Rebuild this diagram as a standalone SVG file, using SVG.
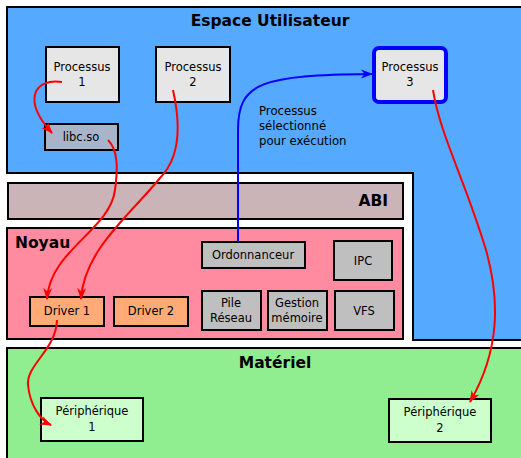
<svg xmlns="http://www.w3.org/2000/svg" width="521" height="458" viewBox="0 0 521 458">
  <style>
    .region { stroke: #000; stroke-width: 2; }
    .box { stroke: #000; stroke-width: 2; }
    .proc { fill: #e6e6e6; }
    .grey { fill: #bfbfbf; }
    .drv { fill: #ffaa77; }
    .dev { fill: #ccffcc; }
    .lbl { font-family: "DejaVu Sans", sans-serif; font-size: 11.5px; fill: #000; text-anchor: middle; }
    .title { font-family: "DejaVu Sans", sans-serif; font-size: 15.5px; font-weight: bold; fill: #000; }
    .note { font-family: "DejaVu Sans", sans-serif; font-size: 11.7px; fill: #000; }
    .red { fill: none; stroke: #ff0000; stroke-width: 2; }
    .blue { fill: none; stroke: #0000ff; stroke-width: 2; }
  </style>
  <defs>
    <marker id="arrowRed" viewBox="0 0 12 10" refX="11" refY="5" markerWidth="12" markerHeight="10" markerUnits="userSpaceOnUse" orient="auto" overflow="visible">
      <path d="M0,0.5 L12,5 L0,9.5 L3.5,5 Z" fill="#ff0000"/>
    </marker>
    <marker id="arrowBlue" viewBox="0 0 12 10" refX="11" refY="5" markerWidth="12" markerHeight="10" markerUnits="userSpaceOnUse" orient="auto" overflow="visible">
      <path d="M0,0.5 L12,5 L0,9.5 L3.5,5 Z" fill="#0000ff"/>
    </marker>
  </defs>

  <rect width="521" height="458" fill="#fff"/>

  <!-- Layers -->
  <g id="espace-utilisateur">
    <path class="region" d="M7,7 L524,7 L524,340 L413,340 L413,173 L7,173 Z" fill="#55aaff"/>
    <text class="title" x="270" y="26" text-anchor="middle">Espace Utilisateur</text>
  </g>
  <g id="abi">
    <rect class="region" x="8" y="183" width="395" height="36" fill="#cbb4b7"/>
    <text class="title" x="388" y="206" text-anchor="end">ABI</text>
  </g>
  <g id="noyau">
    <rect class="region" x="7" y="228" width="396" height="111" fill="#ff8ba0"/>
    <text class="title" x="15" y="248">Noyau</text>
  </g>
  <g id="materiel">
    <rect class="region" x="7" y="348" width="520" height="120" fill="#90ee90"/>
    <text class="title" x="275" y="368" text-anchor="middle">Matériel</text>
  </g>

  <!-- User-space nodes -->
  <g id="processus-1">
    <rect class="box proc" x="46" y="47" width="73" height="55"/>
    <text class="lbl" x="82" y="71">Processus</text>
    <text class="lbl" x="82" y="86">1</text>
  </g>
  <g id="processus-2">
    <rect class="box proc" x="156" y="47" width="74" height="55"/>
    <text class="lbl" x="193" y="71">Processus</text>
    <text class="lbl" x="193" y="86">2</text>
  </g>
  <g id="processus-3">
    <rect x="374" y="48" width="72" height="54" rx="5" fill="#e6e6e6" stroke="#0000ff" stroke-width="4"/>
    <text class="lbl" x="410" y="71">Processus</text>
    <text class="lbl" x="410" y="86">3</text>
  </g>
  <g id="libc">
    <rect class="box" x="45" y="124" width="73" height="26" fill="#aab4c9"/>
    <text class="lbl" x="81" y="141">libc.so</text>
  </g>
  <g id="note-selection">
    <text class="note" x="259" y="115">Processus</text>
    <text class="note" x="259" y="130">sélectionné</text>
    <text class="note" x="259" y="145">pour exécution</text>
  </g>

  <!-- Kernel nodes -->
  <g id="ordonnanceur">
    <rect class="box grey" x="202" y="242" width="103" height="26"/>
    <text class="lbl" x="253" y="259">Ordonnanceur</text>
  </g>
  <g id="ipc">
    <rect class="box grey" x="334" y="241" width="58" height="39"/>
    <text class="lbl" x="363" y="265">IPC</text>
  </g>
  <g id="driver-1">
    <rect class="box drv" x="30" y="297" width="74" height="29"/>
    <text class="lbl" x="67" y="315">Driver 1</text>
  </g>
  <g id="driver-2">
    <rect class="box drv" x="114" y="297" width="74" height="29"/>
    <text class="lbl" x="151" y="315">Driver 2</text>
  </g>
  <g id="pile-reseau">
    <rect class="box grey" x="202" y="291" width="59" height="39"/>
    <text class="lbl" x="231" y="307">Pile</text>
    <text class="lbl" x="231" y="322">Réseau</text>
  </g>
  <g id="gestion-memoire">
    <rect class="box grey" x="268" y="291" width="59" height="39"/>
    <text class="lbl" x="297" y="307">Gestion</text>
    <text class="lbl" x="297" y="322">mémoire</text>
  </g>
  <g id="vfs">
    <rect class="box grey" x="335" y="291" width="59" height="39"/>
    <text class="lbl" x="364" y="315">VFS</text>
  </g>

  <!-- Hardware nodes -->
  <g id="peripherique-1">
    <rect class="box dev" x="41" y="398" width="102" height="43"/>
    <text class="lbl" x="92" y="415">Périphérique</text>
    <text class="lbl" x="92" y="431">1</text>
  </g>
  <g id="peripherique-2">
    <rect class="box dev" x="389" y="399" width="102" height="43"/>
    <text class="lbl" x="440" y="416">Périphérique</text>
    <text class="lbl" x="440" y="432">2</text>
  </g>

  <!-- Connectors -->
  <g id="connectors">
    <path class="red" d="M62,82 C34,78 22,100 52,133" marker-end="url(#arrowRed)"/>
    <path class="red" d="M108,140 C118,150 118,168 115,190 C110,230 50,250 47,299" marker-end="url(#arrowRed)"/>
    <path class="red" d="M173,90 C182,130 178,160 160,178 C130,215 84,250 81,299" marker-end="url(#arrowRed)"/>
    <path class="red" d="M57,320 C56,350 26,365 28,385 C30,405 40,420 51,425" marker-end="url(#arrowRed)"/>
    <path class="red" d="M433,90 C440,135 465,180 486,250 C500,300 500,350 470,402" marker-end="url(#arrowRed)"/>
    <path class="blue" d="M238,242 L238,130 C238,82 262,75 372,74" marker-end="url(#arrowBlue)"/>
  </g>
</svg>
